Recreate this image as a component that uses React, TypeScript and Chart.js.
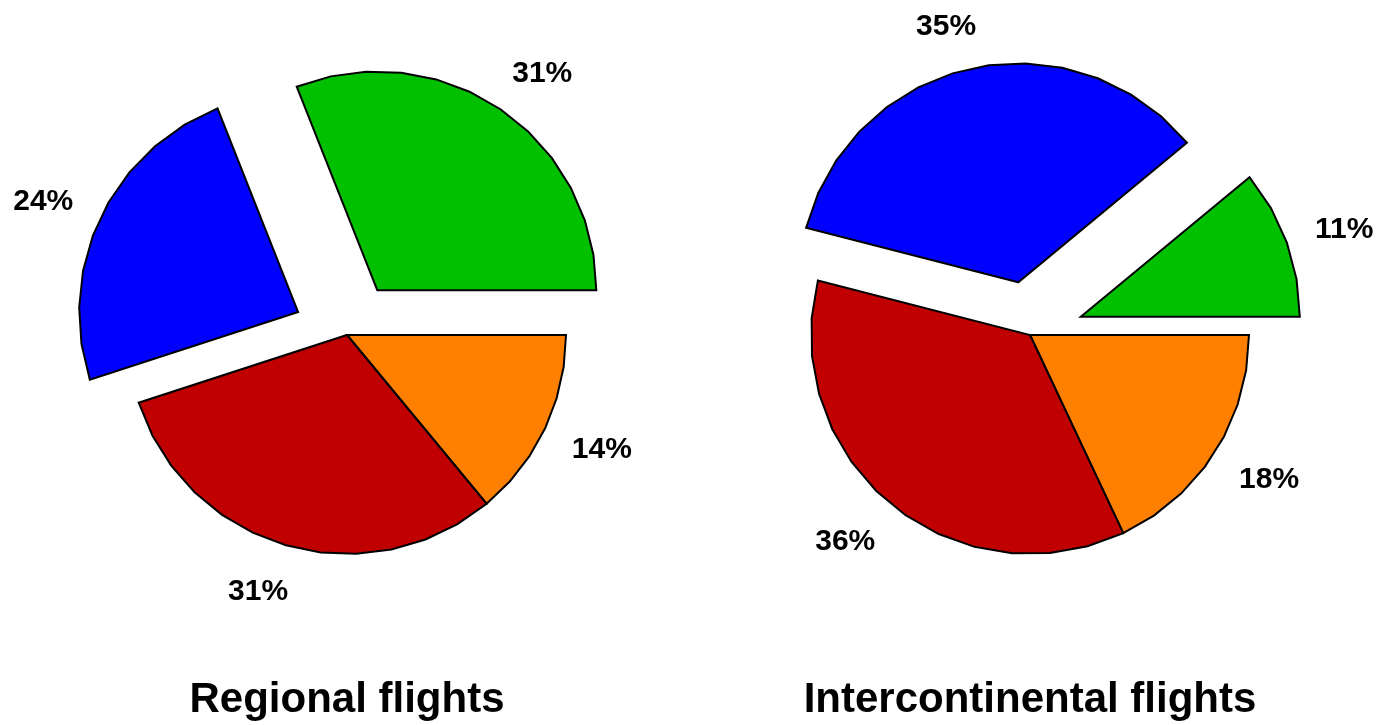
import React, { useEffect, useRef } from "react";
import { Chart, registerables } from "chart.js";

Chart.register(...registerables);

// Slice colours, in drawing order (clockwise from 3 o'clock)
const SLICE_COLORS = ["#FF8000", "#C00000", "#0000FF", "#00C000"];

// Shares in percent
const REGIONAL_SHARES = [14, 31, 24, 31];
const INTERCONTINENTAL_SHARES = [18, 36, 35, 11];

// Which slices are pulled out of the pie
const REGIONAL_EXPLODED = [false, false, true, true];
const INTERCONTINENTAL_EXPLODED = [false, false, true, true];

const REGIONAL_TITLE = "Regional flights";
const INTERCONTINENTAL_TITLE = "Intercontinental flights";

const FONT_FAMILY = "'Liberation Sans', Arial, Helvetica, sans-serif";
const EXPLODE_DISTANCE = 54;
const LABEL_ANCHOR_FACTOR = 1.14;
const SEGMENT_STEP = (10 * Math.PI) / 180;
const CANVAS_W = 691;
const CANVAS_H = 725;

type PieProps = {
  shares: number[];
  exploded: boolean[];
  title: string;
  left: number;
  padding: { left: number; right: number; top: number; bottom: number };
};

function makePolygonPiePlugin(exploded: boolean[], shares: number[], title: string) {
  return {
    id: "polygonPie",
    beforeDatasetDraw(chart: any, args: any) {
      const ctx: CanvasRenderingContext2D = chart.ctx;
      const meta = args.meta;
      ctx.save();
      meta.data.forEach((arc: any, i: number) => {
        const { x, y, startAngle, endAngle, outerRadius } = arc.getProps(
          ["x", "y", "startAngle", "endAngle", "outerRadius"],
          true
        );
        const mid = (startAngle + endAngle) / 2;
        const ux = Math.cos(mid);
        const uy = Math.sin(mid);
        const shift = exploded[i] ? EXPLODE_DISTANCE : 0;
        const cx = x + ux * shift;
        const cy = y + uy * shift;
        const sweep = endAngle - startAngle;
        const steps = Math.max(1, Math.ceil(sweep / SEGMENT_STEP - 1e-6));

        // Slice as a polygon with straight edge segments
        ctx.beginPath();
        ctx.moveTo(cx, cy);
        for (let k = 0; k <= steps; k++) {
          const a = startAngle + (sweep * k) / steps;
          ctx.lineTo(cx + Math.cos(a) * outerRadius, cy + Math.sin(a) * outerRadius);
        }
        ctx.closePath();
        ctx.fillStyle = SLICE_COLORS[i];
        ctx.fill();
        ctx.lineWidth = 2;
        ctx.lineJoin = "miter";
        ctx.strokeStyle = "#000000";
        ctx.stroke();

        // Percentage label: anchored just outside the rim, text extends outward
        const text = `${shares[i]}%`;
        ctx.font = `bold 30px ${FONT_FAMILY}`;
        const halfW = ctx.measureText(text).width / 2;
        const anchor = outerRadius * LABEL_ANCHOR_FACTOR;
        const lx = cx + ux * anchor + Math.sign(ux) * halfW * Math.pow(Math.abs(ux), 0.35);
        const ly = cy + uy * anchor + uy * 15;
        ctx.fillStyle = "#000000";
        ctx.textAlign = "center";
        ctx.textBaseline = "alphabetic";
        ctx.fillText(text, lx, ly + 10.7);
      });
      ctx.restore();
      return false;
    },
    afterDraw(chart: any) {
      const ctx: CanvasRenderingContext2D = chart.ctx;
      const area = chart.chartArea;
      ctx.save();
      ctx.font = `bold 42px ${FONT_FAMILY}`;
      ctx.fillStyle = "#000000";
      ctx.textAlign = "center";
      ctx.textBaseline = "alphabetic";
      ctx.fillText(title, (area.left + area.right) / 2, 712);
      ctx.restore();
    },
  };
}

function ExplodedPie({ shares, exploded, title, left, padding }: PieProps) {
  const canvasRef = useRef<HTMLCanvasElement | null>(null);

  useEffect(() => {
    if (!canvasRef.current) return;
    const chart = new Chart(canvasRef.current, {
      type: "pie",
      data: {
        datasets: [
          {
            data: shares,
            backgroundColor: SLICE_COLORS,
            borderWidth: 0,
          },
        ],
      },
      options: {
        responsive: false,
        animation: false,
        rotation: 90,
        layout: { padding },
        events: [],
        plugins: {
          legend: { display: false },
          tooltip: { enabled: false },
          title: { display: false },
        },
      },
      plugins: [makePolygonPiePlugin(exploded, shares, title)],
    } as any);
    return () => chart.destroy();
  }, [shares, exploded, title, padding]);

  return (
    <canvas
      ref={canvasRef}
      width={CANVAS_W}
      height={CANVAS_H}
      style={{ position: "absolute", left, top: 0, width: CANVAS_W, height: CANVAS_H }}
    />
  );
}

const LEFT_PADDING = { left: 128, right: 125, top: 116, bottom: 171 };
const RIGHT_PADDING = { left: 120, right: 133, top: 116, bottom: 171 };

export default function App() {
  return (
    <div
      style={{
        position: "fixed",
        left: 0,
        top: 0,
        width: 1382,
        height: 725,
        background: "#ffffff",
        overflow: "hidden",
      }}
    >
      <ExplodedPie
        shares={REGIONAL_SHARES}
        exploded={REGIONAL_EXPLODED}
        title={REGIONAL_TITLE}
        left={0}
        padding={LEFT_PADDING}
      />
      <ExplodedPie
        shares={INTERCONTINENTAL_SHARES}
        exploded={INTERCONTINENTAL_EXPLODED}
        title={INTERCONTINENTAL_TITLE}
        left={691}
        padding={RIGHT_PADDING}
      />
    </div>
  );
}
